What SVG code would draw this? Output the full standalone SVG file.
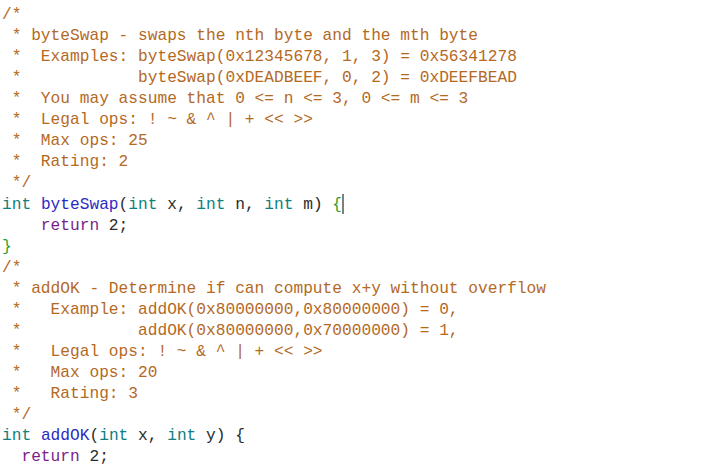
<svg xmlns="http://www.w3.org/2000/svg" width="716" height="471" viewBox="0 0 716 471">
<style>
text{font-family:"Liberation Mono","DejaVu Sans Mono",monospace;font-size:16.2px;white-space:pre;fill:#2b2b2b}
.c{fill:#b4691f}.k{fill:#0f7f7f}.f{fill:#2b2bc4}.r{fill:#7a1f8a}.b{fill:#2e9e2e}
</style>
<rect width="716" height="471" fill="#fff"/>
<g id="code" xml:space="preserve">
<text x="2" y="19" class="c">/*</text>
<text x="2" y="40" class="c"> * byteSwap - swaps the nth byte and the mth byte</text>
<text x="2" y="61" class="c"> *  Examples: byteSwap(0x12345678, 1, 3) = 0x56341278</text>
<text x="2" y="82" class="c"> *            byteSwap(0xDEADBEEF, 0, 2) = 0xDEEFBEAD</text>
<text x="2" y="103" class="c"> *  You may assume that 0 &lt;= n &lt;= 3, 0 &lt;= m &lt;= 3</text>
<text x="2" y="124" class="c"> *  Legal ops: ! ~ &amp; ^ | + &lt;&lt; &gt;&gt;</text>
<text x="2" y="145" class="c"> *  Max ops: 25</text>
<text x="2" y="166" class="c"> *  Rating: 2</text>
<text x="2" y="187" class="c"> */</text>
<text x="2" y="209"><tspan class="k">int</tspan> <tspan class="f">byteSwap</tspan>(<tspan class="k">int</tspan> x, <tspan class="k">int</tspan> n, <tspan class="k">int</tspan> m) <tspan class="b">{</tspan></text>
<text x="2" y="230">    <tspan class="r">return</tspan> 2;</text>
<text x="2" y="251" class="b">}</text>
<text x="2" y="272" class="c">/*</text>
<text x="2" y="293" class="c"> * addOK - Determine if can compute x+y without overflow</text>
<text x="2" y="314" class="c"> *   Example: addOK(0x80000000,0x80000000) = 0,</text>
<text x="2" y="335" class="c"> *            addOK(0x80000000,0x70000000) = 1,</text>
<text x="2" y="356" class="c"> *   Legal ops: ! ~ &amp; ^ | + &lt;&lt; &gt;&gt;</text>
<text x="2" y="377" class="c"> *   Max ops: 20</text>
<text x="2" y="398" class="c"> *   Rating: 3</text>
<text x="2" y="419" class="c"> */</text>
<text x="2" y="440"><tspan class="k">int</tspan> <tspan class="f">addOK</tspan>(<tspan class="k">int</tspan> x, <tspan class="k">int</tspan> y) {</text>
<text x="2" y="461">  <tspan class="r">return</tspan> 2;</text>
</g>
<line x1="343" y1="194" x2="343" y2="214" stroke="#000" stroke-width="1"/>
</svg>
